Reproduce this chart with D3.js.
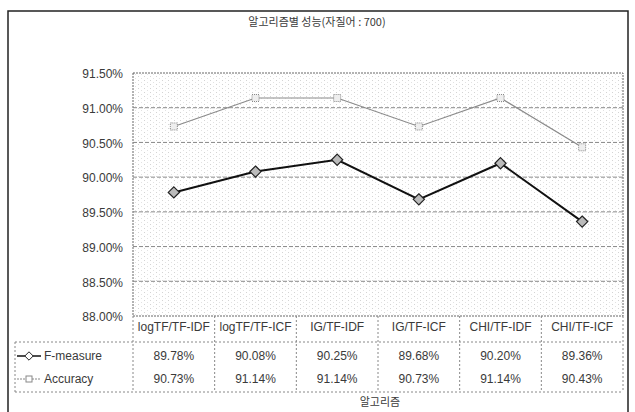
<!DOCTYPE html>
<html>
<head>
<meta charset="utf-8">
<script src="https://cdn.jsdelivr.net/npm/d3@7"></script>
<style>
  body { margin: 0; background: #fff; }
  svg { display: block; }
  text { font-family: "Liberation Sans", Arial, sans-serif; fill: #3a3a3a; }
  .kr { font-family: "Noto Sans CJK KR", sans-serif; }
</style>
</head>
<body>
<svg id="chart"></svg>
<script>
const categories = ["logTF/TF-IDF", "logTF/TF-ICF", "IG/TF-IDF", "IG/TF-ICF", "CHI/TF-IDF", "CHI/TF-ICF"];
const fMeasure = [89.78, 90.08, 90.25, 89.68, 90.20, 89.36];
const accuracy = [90.73, 91.14, 91.14, 90.73, 91.14, 90.43];
const yTicks = [88.0, 88.5, 89.0, 89.5, 90.0, 90.5, 91.0, 91.5];
const seriesNames = ["F-measure", "Accuracy"];
const chartTitle = "알고리즘별 성능(자질어 : 700)";
const xTitle = "알고리즘";

const width = 635, height = 412;
const plot = {left: 133, right: 623, top: 73, bottom: 316};

const svg = d3.select("#chart")
              .attr("width", width)
              .attr("height", height);

// scan-like dotted texture for the plot area
const defs = svg.append("defs");
const pat = defs.append("pattern")
                .attr("id", "dots")
                .attr("width", 6)
                .attr("height", 4)
                .attr("patternUnits", "userSpaceOnUse");
pat.append("rect").attr("x", 0).attr("y", 0).attr("width", 1).attr("height", 1).attr("fill", "#d4d4d4");
pat.append("rect").attr("x", 3).attr("y", 2).attr("width", 1).attr("height", 1).attr("fill", "#e2e2e2");

// outer frame
svg.append("path")
   .attr("d", "M8,412 V11 H628 V412")
   .attr("fill", "none")
   .attr("stroke", "#222")
   .attr("stroke-width", 1.5);

svg.append("text")
   .attr("class", "kr")
   .attr("x", 317)
   .attr("y", 26)
   .attr("text-anchor", "middle")
   .style("font-size", "11px")
   .text(chartTitle);

const x = d3.scaleBand()
            .domain(categories)
            .range([plot.left, plot.right]);

const y = d3.scaleLinear()
            .domain([88, 91.5])
            .range([plot.bottom, plot.top]);

svg.append("rect")
   .attr("x", plot.left)
   .attr("y", plot.top)
   .attr("width", plot.right - plot.left)
   .attr("height", plot.bottom - plot.top)
   .attr("fill", "url(#dots)")
   .attr("stroke", "#666")
   .attr("stroke-dasharray", "2,1");

// horizontal gridlines
svg.append("g")
   .selectAll("line")
   .data(yTicks.slice(1, -1))
   .enter()
   .append("line")
   .attr("x1", plot.left)
   .attr("x2", plot.right)
   .attr("y1", d => y(d))
   .attr("y2", d => y(d))
   .attr("stroke", "#888")
   .attr("stroke-dasharray", "4,2");

const yAxis = d3.axisLeft(y)
                .tickValues(yTicks)
                .tickFormat(d => d3.format(".2f")(d) + "%")
                .tickSize(0)
                .tickPadding(10);

const yAxisG = svg.append("g")
                  .attr("transform", "translate(" + plot.left + ",0)")
                  .call(yAxis);
yAxisG.select(".domain").remove();
yAxisG.selectAll("text")
      .style("font-size", "12px")
      .style("font-family", "'Liberation Sans', Arial, sans-serif")
      .attr("fill", "#3a3a3a")
      .attr("dy", "0.4em");

const linePath = d3.line()
                   .x((d, i) => x(categories[i]) + x.bandwidth() / 2)
                   .y(d => y(d));

// accuracy series
svg.append("path")
   .datum(accuracy)
   .attr("d", linePath)
   .attr("fill", "none")
   .attr("stroke", "#8a8a8a")
   .attr("stroke-width", 1.2);

svg.append("g")
   .selectAll("rect")
   .data(accuracy)
   .enter()
   .append("rect")
   .attr("x", (d, i) => x(categories[i]) + x.bandwidth() / 2 - 3.5)
   .attr("y", d => y(d) - 3.5)
   .attr("width", 7)
   .attr("height", 7)
   .attr("fill", "#eee")
   .attr("stroke", "#888")
   .attr("stroke-dasharray", "1,1");

// F-measure series
svg.append("path")
   .datum(fMeasure)
   .attr("d", linePath)
   .attr("fill", "none")
   .attr("stroke", "#111")
   .attr("stroke-width", 2);

const diamond = d3.symbol().type(d3.symbolDiamond2).size(80);

svg.append("g")
   .selectAll("path")
   .data(fMeasure)
   .enter()
   .append("path")
   .attr("d", diamond)
   .attr("transform", (d, i) => "translate(" + (x(categories[i]) + x.bandwidth() / 2) + "," + y(d) + ")")
   .attr("fill", "#bbb")
   .attr("stroke", "#222")
   .attr("stroke-width", 1.2);

// data table
const rowY = {head: 331, f: 360, acc: 383};
const table = svg.append("g");

table.selectAll(".cat")
     .data(categories)
     .enter()
     .append("text")
     .attr("x", d => x(d) + x.bandwidth() / 2)
     .attr("y", rowY.head)
     .attr("text-anchor", "middle")
     .style("font-size", "12px")
     .text(d => d);

[fMeasure, accuracy].forEach(function(vals, r) {
  table.append("g")
       .selectAll("text")
       .data(vals)
       .enter()
       .append("text")
       .attr("x", (d, i) => x(categories[i]) + x.bandwidth() / 2)
       .attr("y", r === 0 ? rowY.f : rowY.acc)
       .attr("text-anchor", "middle")
       .style("font-size", "12px")
       .text(d => d3.format(".2f")(d) + "%");
});

const gridStyle = sel => sel.attr("stroke", "#888").attr("stroke-dasharray", "2,2").attr("fill", "none");

// vertical separators
table.append("g")
     .selectAll("line")
     .data(categories.slice(1))
     .enter()
     .append("line")
     .attr("x1", d => x(d))
     .attr("x2", d => x(d))
     .attr("y1", plot.bottom)
     .attr("y2", 392)
     .call(gridStyle);

table.append("path")
     .attr("d", "M" + plot.left + "," + plot.bottom + " V392 M" + plot.right + "," + plot.bottom + " V392"
              + " M15,342 H" + plot.right + " M15,392 H" + plot.right + " M15,342 V392")
     .call(gridStyle);

// legend keys
const keyX = 17, keyW = 24;
table.append("line")
     .attr("x1", keyX).attr("x2", keyX + keyW)
     .attr("y1", rowY.f - 4).attr("y2", rowY.f - 4)
     .attr("stroke", "#111").attr("stroke-width", 1.5);
table.append("path")
     .attr("d", d3.symbol().type(d3.symbolDiamond2).size(45))
     .attr("transform", "translate(" + (keyX + keyW / 2) + "," + (rowY.f - 4) + ")")
     .attr("fill", "#fff")
     .attr("stroke", "#222");
table.append("line")
     .attr("x1", keyX).attr("x2", keyX + keyW)
     .attr("y1", rowY.acc - 4).attr("y2", rowY.acc - 4)
     .attr("stroke", "#888").attr("stroke-dasharray", "2,1");
table.append("rect")
     .attr("x", keyX + keyW / 2 - 3).attr("y", rowY.acc - 7)
     .attr("width", 6).attr("height", 6)
     .attr("fill", "#fff").attr("stroke", "#888");

table.selectAll(".leg")
     .data(seriesNames)
     .enter()
     .append("text")
     .attr("x", keyX + keyW + 3)
     .attr("y", (d, i) => i === 0 ? rowY.f : rowY.acc)
     .style("font-size", "12px")
     .text(d => d);

svg.append("text")
   .attr("class", "kr")
   .attr("x", 380)
   .attr("y", 406)
   .attr("text-anchor", "middle")
   .style("font-size", "11px")
   .text(xTitle);
</script>
</body>
</html>
